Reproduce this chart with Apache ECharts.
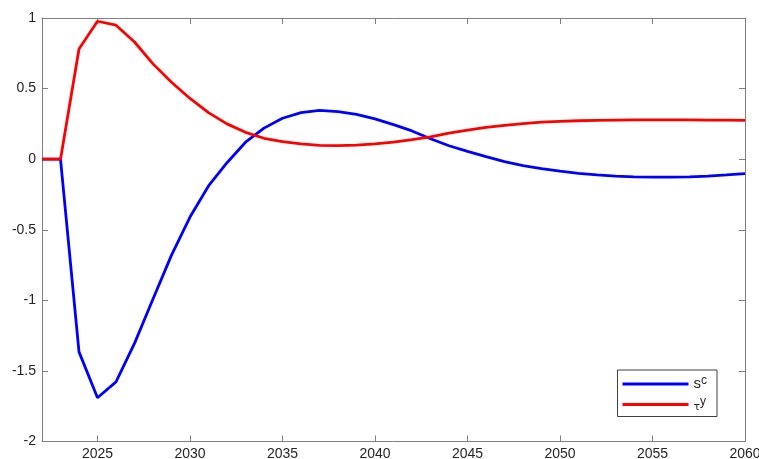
<!DOCTYPE html>
<html>
<head>
<meta charset="utf-8">
<script src="https://cdn.jsdelivr.net/npm/echarts@6/dist/echarts.min.js"></script>
<style>
  html, body { margin: 0; padding: 0; background: #fff; }
  #main { width: 759px; height: 459px; }
</style>
</head>
<body>
<div id="main"></div>
<script>
// 数据
var years = [];
for (var y = 2022; y <= 2060; y++) years.push(y);

var sc = [0, 0, -1.365, -1.69, -1.578, -1.305, -0.99, -0.68, -0.41, -0.19,
  -0.025, 0.12, 0.22, 0.29, 0.33, 0.345, 0.337, 0.318, 0.285, 0.245,
  0.2, 0.145, 0.095, 0.055, 0.018, -0.017, -0.045, -0.067, -0.085, -0.1,
  -0.112, -0.12, -0.125, -0.127, -0.127, -0.125, -0.12, -0.112, -0.103];

var tauy = [0, 0, 0.78, 0.977, 0.949, 0.83, 0.675, 0.545, 0.43, 0.33,
  0.25, 0.19, 0.148, 0.125, 0.108, 0.098, 0.096, 0.1, 0.108, 0.12,
  0.138, 0.158, 0.185, 0.205, 0.225, 0.24, 0.252, 0.262, 0.268, 0.272,
  0.275, 0.277, 0.278, 0.279, 0.279, 0.278, 0.277, 0.276, 0.275];

var xTicks = [2025, 2030, 2035, 2040, 2045, 2050, 2055, 2060];

function pairs(vals) {
  return years.map(function(yr, i) { return [yr, vals[i]]; });
}

var axisColor = '#808080';
var font = 'Liberation Sans, Arial, sans-serif';

var myChart = echarts.init(document.getElementById('main'));

var option = {
  animation: false,
  backgroundColor: '#fff',
  grid: { left: 42, right: 14, top: 18, bottom: 17.5, outerBoundsMode: 'none', containLabel: false },
  legend: {
    orient: 'vertical',
    right: 42,
    top: 370,
    padding: [5, 10, 4, 5],
    itemGap: 4,
    itemWidth: 66,
    itemHeight: 3,
    icon: 'rect',
    borderColor: '#404040',
    borderWidth: 1,
    backgroundColor: '#fff',
    data: ['sc', 'tauy'],
    formatter: function(name) {
      return name == 'sc' ? '{b|s}{sup|c}' : '{tau|τ}{sup|y}';
    },
    textStyle: {
      fontFamily: font,
      color: '#262626',
      rich: {
        b: { fontSize: 15, fontFamily: font, color: '#262626' },
        sup: { fontSize: 12, fontFamily: font, color: '#262626', padding: [0, 0, 6, 0] },
        tau: { fontSize: 11, fontFamily: 'DejaVu Sans, sans-serif', color: '#262626', padding: [5, 0, 0, 0] }
      }
    }
  },
  xAxis: [{
    type: 'value',
    min: 2022,
    max: 2060,
    position: 'bottom',
    splitLine: { show: false },
    axisLine: { onZero: false, lineStyle: { color: axisColor } },
    axisTick: { inside: true, length: 6, customValues: xTicks, lineStyle: { color: axisColor } },
    axisLabel: {
      customValues: xTicks, color: '#262626', fontSize: 14, fontFamily: font, margin: 6,
      formatter: function(v) { return String(v); }
    }
  }, {
    type: 'value',
    min: 2022,
    max: 2060,
    position: 'top',
    splitLine: { show: false },
    axisLine: { show: true, onZero: false, lineStyle: { color: axisColor } },
    axisTick: { inside: true, length: 6, customValues: xTicks, lineStyle: { color: axisColor } },
    axisLabel: { show: false }
  }],
  yAxis: [{
    type: 'value',
    min: -2,
    max: 1,
    interval: 0.5,
    splitLine: { show: false },
    axisLine: { show: true, onZero: false, lineStyle: { color: axisColor } },
    axisTick: { show: true, inside: true, length: 6, lineStyle: { color: axisColor } },
    axisLabel: { color: '#262626', fontSize: 14, fontFamily: font, margin: 6 }
  }, {
    type: 'value',
    min: -2,
    max: 1,
    interval: 0.5,
    position: 'right',
    splitLine: { show: false },
    axisLine: { show: true, onZero: false, lineStyle: { color: axisColor } },
    axisTick: { show: true, inside: true, length: 6, lineStyle: { color: axisColor } },
    axisLabel: { show: false }
  }],
  series: [{
    name: 'sc',
    type: 'line',
    data: pairs(sc),
    showSymbol: false,
    color: '#0000ff',
    lineStyle: { width: 2.8, color: '#0000ff' },
    z: 3
  }, {
    name: 'tauy',
    type: 'line',
    data: pairs(tauy),
    showSymbol: false,
    color: '#ff0000',
    lineStyle: { width: 2.8, color: '#ff0000' },
    z: 4
  }]
};

myChart.setOption(option);
</script>
</body>
</html>
